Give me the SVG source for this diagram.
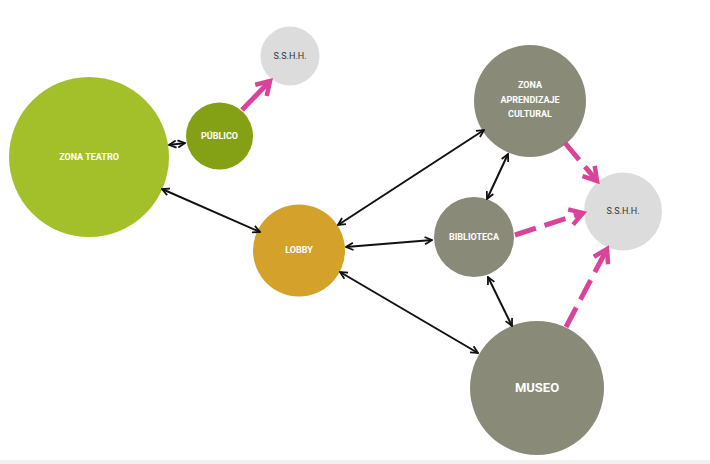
<svg xmlns="http://www.w3.org/2000/svg" width="710" height="464" viewBox="0 0 710 464">
<style>
.t{font-family:"Roboto","Liberation Sans",sans-serif;font-weight:bold;fill:#fff;text-anchor:middle;font-size:9px}
.s{font-family:"Roboto","Liberation Sans",sans-serif;fill:#333;text-anchor:middle;font-size:9px}
.b{fill:none;stroke:#111;stroke-width:2}
.p{fill:none;stroke:#d9439a;stroke-width:5}
.d{stroke-dasharray:22 9}
</style>
<defs>
<marker id="ab" viewBox="0 0 10 10" refX="9" refY="5" markerWidth="9" markerHeight="9" markerUnits="userSpaceOnUse" orient="auto-start-reverse">
<path d="M1,1 L9,5 L1,9" fill="none" stroke="#111" stroke-width="2"/>
</marker>
<marker id="ap" viewBox="0 0 20 20" refX="16" refY="10" markerWidth="20" markerHeight="20" markerUnits="userSpaceOnUse" orient="auto">
<path d="M3,2 L16,10 L3,18" fill="none" stroke="#d9439a" stroke-width="4.5" stroke-linejoin="miter"/>
</marker>
</defs>
<rect x="0" y="460" width="710" height="4" fill="#f0f0f0"/>
<g id="n-teatro"><circle cx="89" cy="157" r="80" fill="#a3c02b"/><text class="t" x="89" y="160">ZONA TEATRO</text></g>
<g id="n-publico"><circle cx="219.5" cy="136" r="33.5" fill="#84a014"/><text class="t" x="219.5" y="139">PÚBLICO</text></g>
<g id="n-sshh1"><circle cx="290" cy="56" r="29.5" fill="#dcdcdc"/><text class="s" x="290" y="59">S.S.H.H.</text></g>
<g id="n-lobby"><circle cx="299" cy="250.5" r="46" fill="#d4a22a"/><text class="t" x="299" y="253">LOBBY</text></g>
<g id="n-biblioteca"><circle cx="474" cy="237" r="40" fill="#8a8a78"/><text class="t" x="474" y="240">BIBLIOTECA</text></g>
<g id="n-zona-aprendizaje"><circle cx="530" cy="101" r="56" fill="#8a8a78"/><text class="t" x="530" y="88">ZONA</text><text class="t" x="530" y="103">APRENDIZAJE</text><text class="t" x="530" y="117">CULTURAL</text></g>
<g id="n-sshh2"><circle cx="623" cy="211.5" r="39" fill="#dcdcdc"/><text class="s" x="623" y="214">S.S.H.H.</text></g>
<g id="n-museo"><circle cx="537" cy="388" r="67" fill="#8a8a78"/><text class="t" x="537" y="392" style="font-size:13px">MUSEO</text></g>
<g id="connectors">
<line class="b" x1="169" y1="145" x2="185" y2="143" marker-start="url(#ab)" marker-end="url(#ab)"/>
<line class="b" x1="162" y1="189" x2="260" y2="232" marker-start="url(#ab)" marker-end="url(#ab)"/>
<line class="b" x1="338" y1="225" x2="484" y2="130" marker-start="url(#ab)" marker-end="url(#ab)"/>
<line class="b" x1="346" y1="247" x2="432" y2="240" marker-start="url(#ab)" marker-end="url(#ab)"/>
<line class="b" x1="340" y1="272" x2="478" y2="353" marker-start="url(#ab)" marker-end="url(#ab)"/>
<line class="b" x1="487" y1="199" x2="508" y2="154" marker-start="url(#ab)" marker-end="url(#ab)"/>
<line class="b" x1="488" y1="277" x2="512" y2="326" marker-start="url(#ab)" marker-end="url(#ab)"/>
<line class="p" x1="242" y1="110" x2="270" y2="81" marker-end="url(#ap)"/>
<line class="p d" x1="565" y1="143" x2="597" y2="181" marker-end="url(#ap)"/>
<line class="p d" x1="515" y1="235" x2="583" y2="213" marker-end="url(#ap)"/>
<line class="p d" x1="566" y1="327" x2="607" y2="249" marker-end="url(#ap)"/>
</g>
</svg>
